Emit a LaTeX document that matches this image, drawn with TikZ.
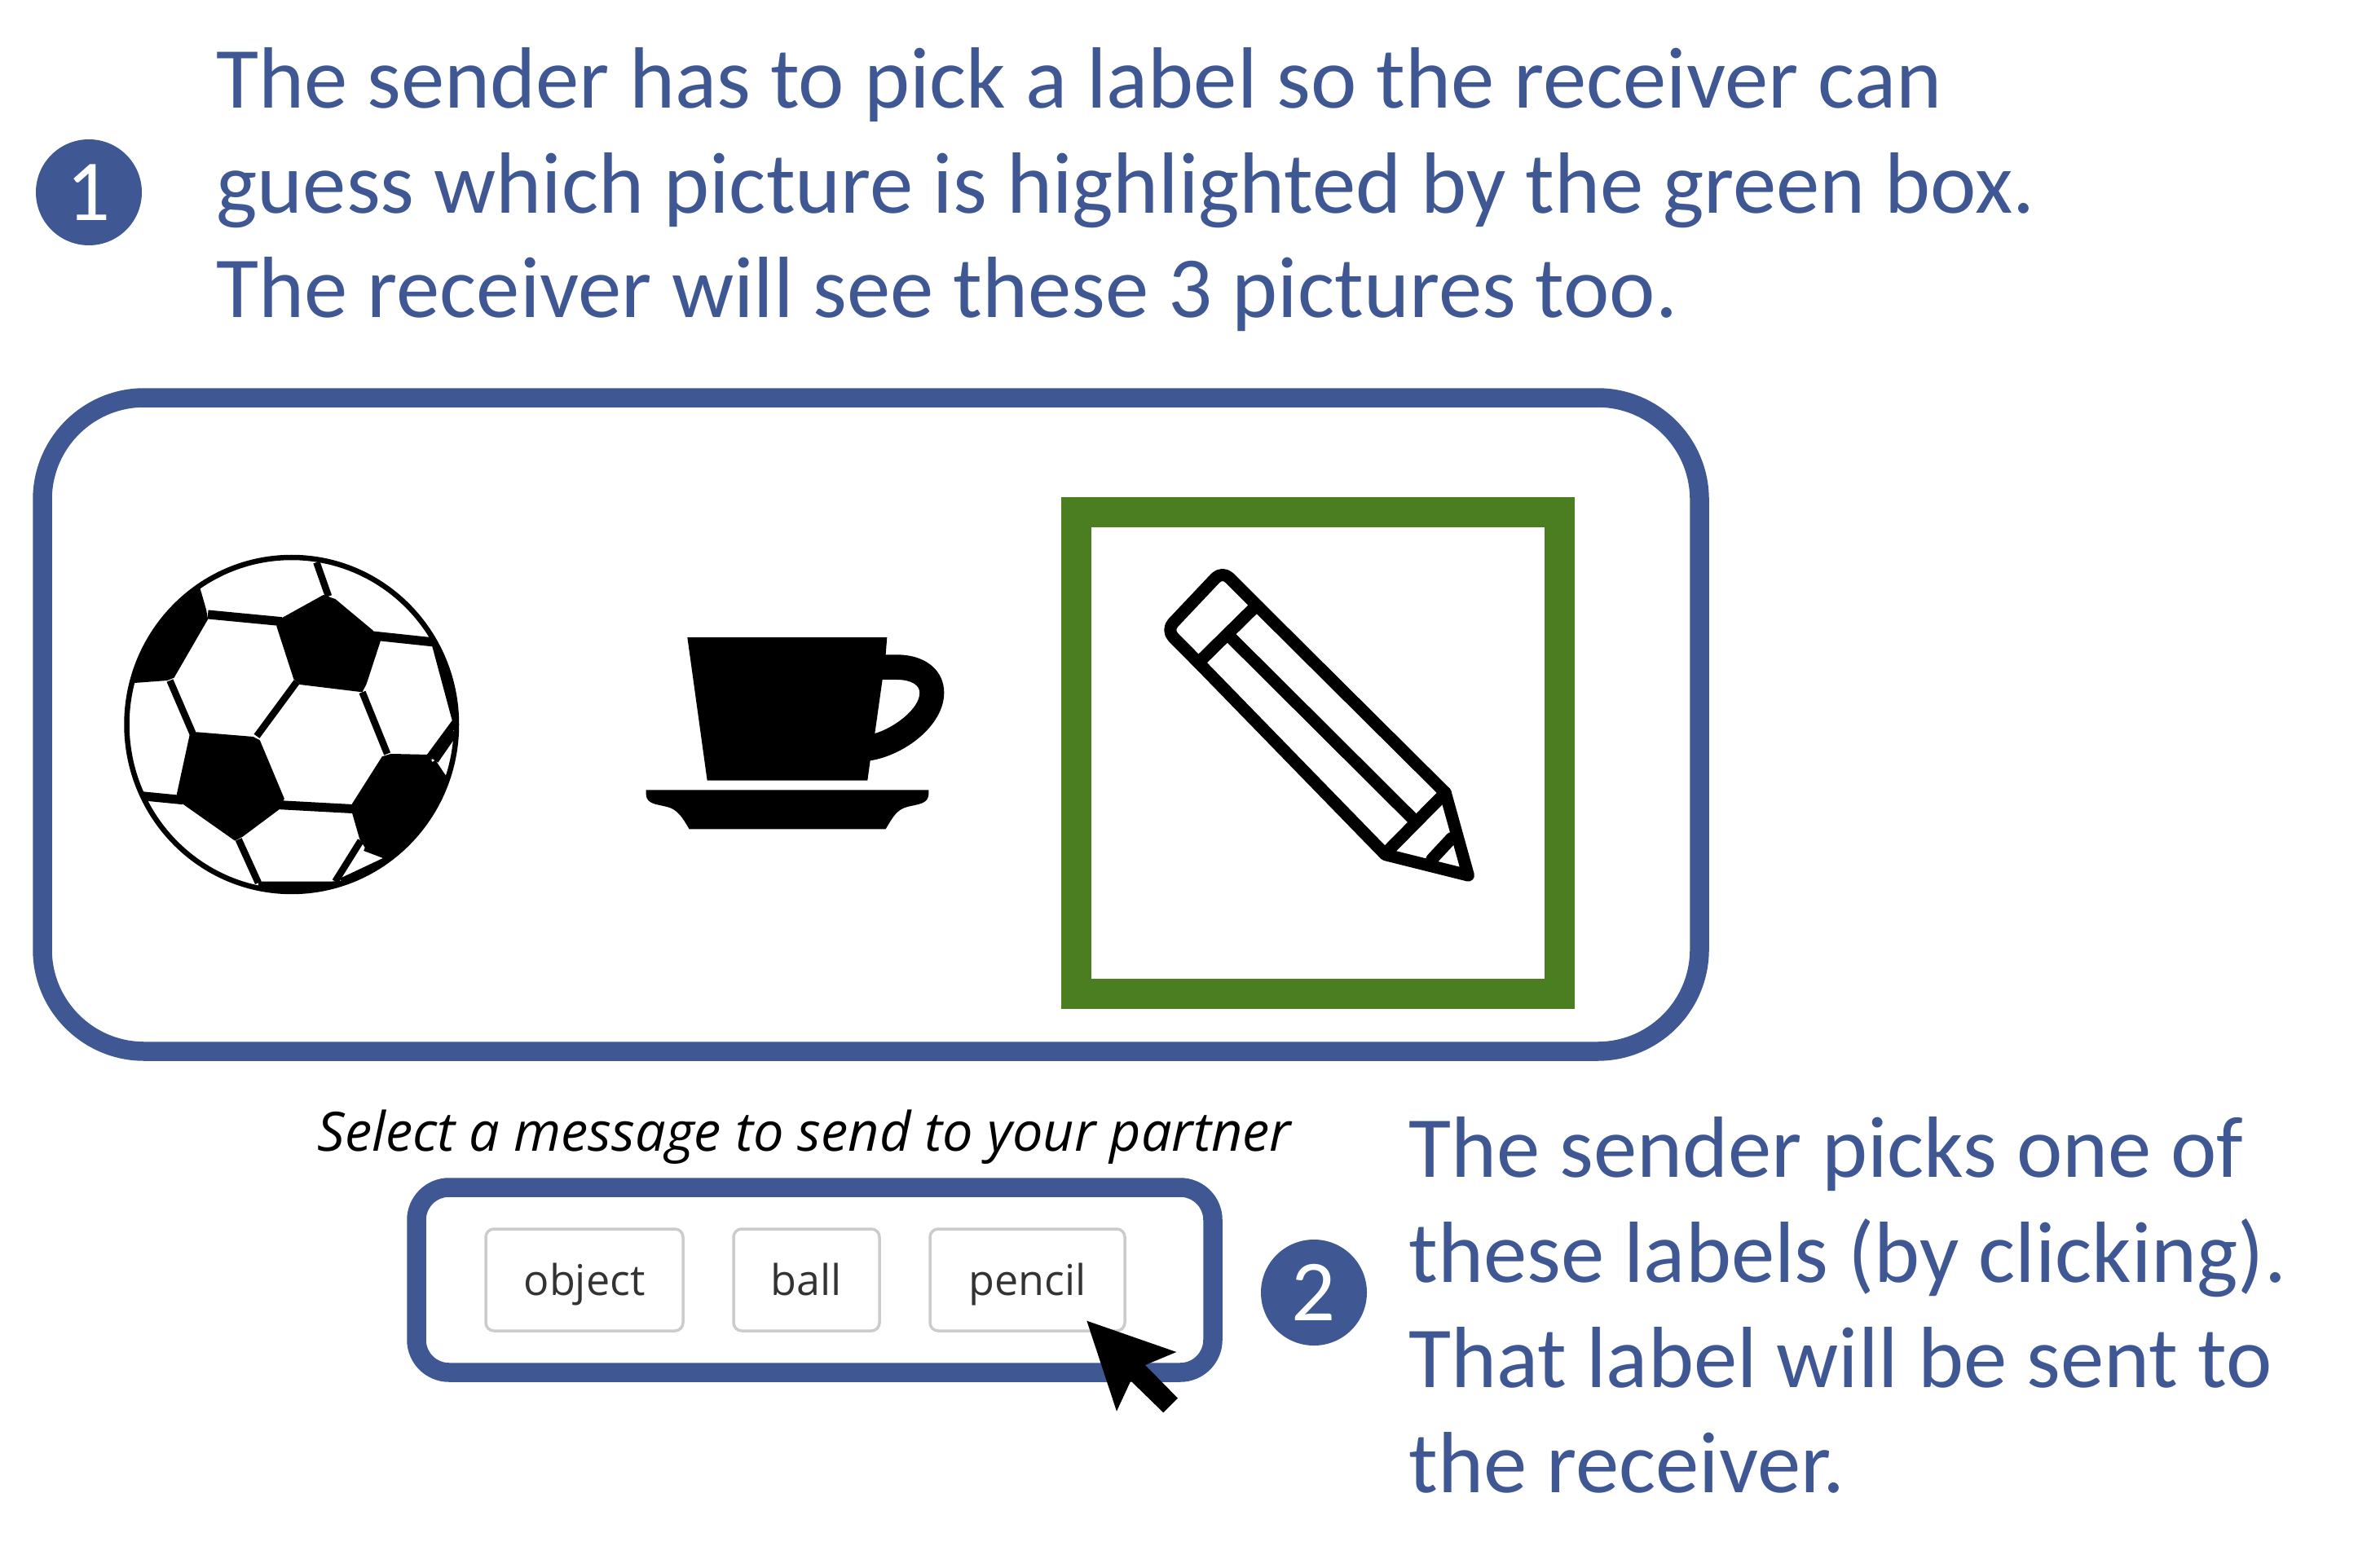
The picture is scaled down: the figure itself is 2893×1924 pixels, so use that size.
\documentclass[tikz,border=0pt]{standalone}
\usepackage{fontspec}
\setmainfont{Carlito}
\newfontfamily\msgfont{Open Sans}
\definecolor{senderblue}{RGB}{63,87,147}
\definecolor{boxgreen}{RGB}{75,126,32}
\definecolor{btngray}{RGB}{204,204,204}
\definecolor{btntext}{RGB}{51,51,51}
\tikzset{
  bluetext/.style={text=senderblue, inner sep=0pt, anchor=base west, align=left, font=\fontsize{30.35}{36.7}\selectfont},
  badge/.style={circle, fill=senderblue, text=white, inner sep=0pt, minimum size=13mm, font=\fontsize{30.35}{36.7}\selectfont},
  frame/.style={draw=senderblue, line width=2.35mm},
  btn/.style={draw=btngray, line width=0.35mm, rounded corners=1mm, text=btntext, minimum height=12.5mm, inner sep=0pt, text height=4.5mm, text depth=0.8mm, font=\msgfont\fontsize{14.8}{18}\selectfont},
  pencilline/.style={line width=1.5mm, line join=round, line cap=round},
  seam/.style={line width=0.85mm},
  band/.style={line width=1.1mm}
}
\begin{document}
\begin{tikzpicture}[x=0.1mm,y=-0.1mm]
    \useasboundingbox (0,0) rectangle (2893,1924);
    \fill[white] (0,0) rectangle (2893,1924);
    % first step
    \node[badge] (one) at (109,236) {1};
    \node[bluetext] (intro) at (265,390) {The sender has to pick a label so the receiver can\\guess which picture is highlighted by the green box.\\The receiver will see these 3 pictures too.};
    % picture frame
    \draw[frame, rounded corners=12.5mm] (52,488) rectangle (2085,1290);
    \draw[boxgreen, line width=3.7mm] (1320,628) rectangle (1913,1219);
    % ball
    \begin{scope}[shift={(100,640)}, xscale=0.638, yscale=0.3333]
        \begin{scope}
            \clip (404,747) ellipse (317 and 615);
            \fill[black] (465,270) -- (488,285) -- (560,400) -- (575,440) -- (548,598) -- (540,628) -- (420,600) -- (408,580) -- (375,385) -- (385,355) -- cycle;
            \fill[black] (225,225) -- (240,325) -- (243,360) -- (178,575) -- (165,585) -- (95,595) -- (60,595) -- (60,225) -- cycle;
            \fill[black] (208,785) -- (222,775) -- (330,792) -- (343,805) -- (390,1020) -- (380,1060) -- (310,1160) -- (295,1175) -- (195,1040) -- (183,1005) -- cycle;
            \fill[black] (595,855) -- (665,858) -- (675,885) -- (700,960) -- (760,960) -- (760,1235) -- (595,1235) -- (545,1200) -- (535,1170) -- (520,1070) -- (520,1040) -- (578,865) -- cycle;
            \fill[black] (340,1325) -- (480,1325) -- (500,1322) -- (500,1400) -- (340,1400) -- cycle;
            \draw[seam] (452,150) -- (475,275);
            \draw[band] (243,342) -- (385,368);
            \draw[band] (560,420) -- (678,444);
            \draw[seam] (170,585) -- (215,785);
            \draw[seam] (414,590) -- (337,790);
            \draw[seam] (540,628) -- (588,855);
            \draw[seam] (680,450) -- (720,735) -- (668,870);
            \draw[seam] (718,775) -- (680,880);
            \draw[seam] (675,885) -- (703,965);
            \draw[band] (115,1010) -- (195,1025);
            \draw[band] (380,1043) -- (525,1058);
            \draw[seam] (302,1170) -- (340,1330);
            \draw[seam] (537,1175) -- (488,1325);
            \draw[seam] (545,1200) -- (600,1240);
            \draw[seam] (600,1235) -- (500,1325);
        \end{scope}
        \draw[line width=0.65mm] (404,747) ellipse (317 and 615);
    \end{scope}
    % cup
    \begin{scope}[shift={(780,760)}, scale=0.3333]
        \fill[black, even odd rule] (190,66) -- (925,66) -- (920,130) -- (960,130) .. controls (1070,130) and (1135,190) .. (1135,270) .. controls (1135,390) and (990,500) .. (863,520) -- (853,593) -- (263,593) -- cycle
            (908,222) -- (960,222) .. controls (1020,222) and (1045,245) .. (1045,270) .. controls (1045,330) and (950,400) .. (880,420) -- cycle;
        \fill[black] (38,628) -- (1078,628) -- (1078,645) .. controls (1075,680) and (1040,680) .. (1000,690) .. controls (960,700) and (945,730) .. (920,772) -- (197,772) .. controls (172,730) and (155,700) .. (115,690) .. controls (75,680) and (40,680) .. (38,645) -- cycle;
    \end{scope}
    % pencil
    \begin{scope}[shift={(1280,600)}, scale=0.4464]
        \draw[pencilline, rounded corners=1.2mm] (592,325) -- (492,225) -- (338,388) -- (436,487);
        \draw[pencilline] (592,325) -- (1105,835) -- (1168,1062) -- (940,1005) -- (436,487);
        \draw[pencilline] (576,330) -- (436,468);
        \draw[pencilline] (519,412) -- (1012,903);
        \draw[pencilline] (1105,835) -- (942,1000);
        \draw[pencilline] (1122,960) -- (1068,1018);
    \end{scope}
    % message row
    \node[text=black, inner sep=0pt, anchor=base west, font=\msgfont\itshape\fontsize{18.95}{24}\selectfont] (prompt) at (389,1412) {Select a message to send to your partner};
    \draw[frame, rounded corners=4mm] (511,1457) rectangle (1488,1684);
    \node[btn, minimum width=24.2mm] (object) at (717,1570.5) {object};
    \node[btn, minimum width=17.9mm] (ball) at (989.5,1570.5) {ball};
    \node[btn, minimum width=23.9mm] (pencil) at (1260.5,1570.5) {pencil};
    % cursor
    \begin{scope}[shift={(1290,1580)}, scale=0.3333]
        \fill[black] (130,122) -- (460,237) -- (345,285) -- (465,407) -- (412,460) -- (292,343) -- (240,455) -- cycle;
    \end{scope}
    % second step
    \node[badge] (two) at (1612,1586) {2};
    \node[bluetext] (outro) at (1728,1831) {The sender picks one of\\these labels (by clicking).\\That label will be sent to\\the receiver.};
\end{tikzpicture}
\end{document}
